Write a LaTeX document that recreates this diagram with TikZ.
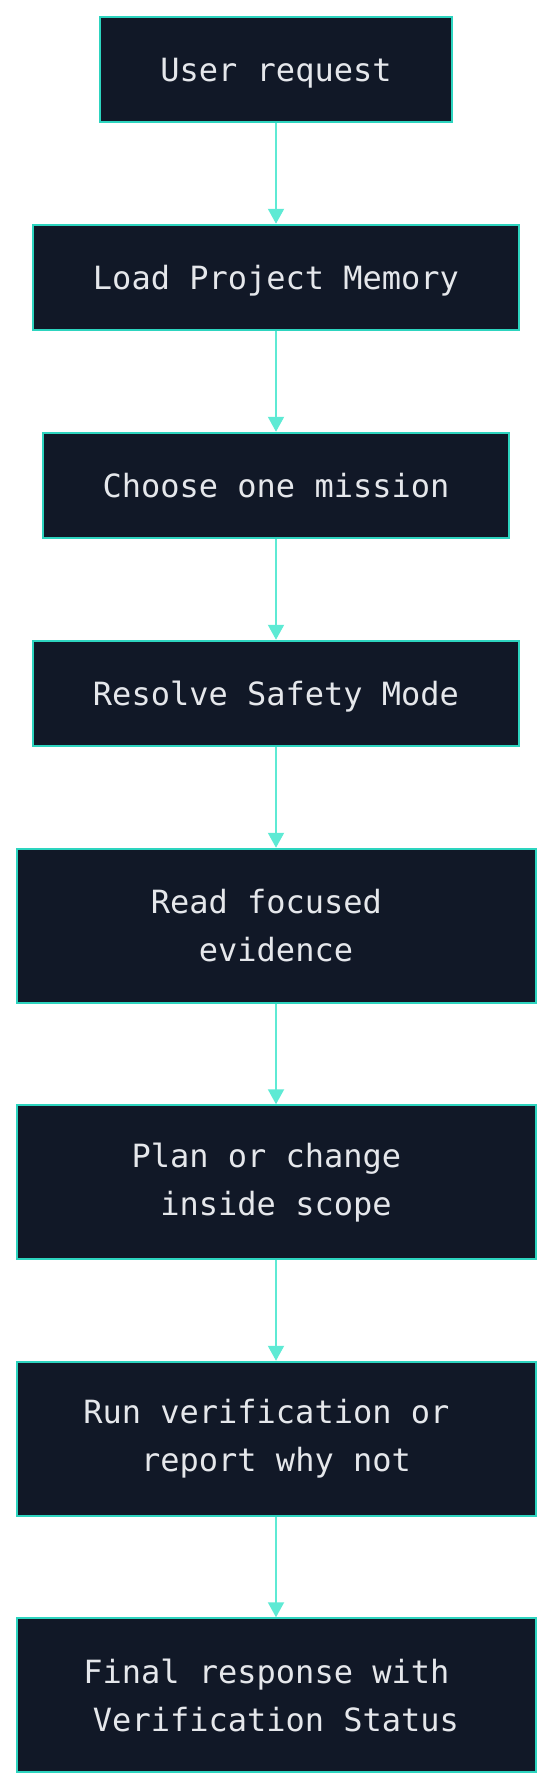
\documentclass[tikz,border=0pt]{standalone}
\usepackage{fontspec}
\setmonofont{DejaVu Sans Mono}
\usetikzlibrary{positioning, arrows.meta}
\definecolor{boxfill}{HTML}{111827}
\definecolor{boxline}{HTML}{2DD4BF}
\definecolor{flowline}{HTML}{5EEAD4}
\definecolor{boxtext}{HTML}{E5E7EB}

\begin{document}
\begin{tikzpicture}[x=1pt, y=-1pt, node distance=100.5pt,
    basebox/.style={draw=boxline, fill=boxfill, line width=2pt, text=boxtext,
        font=\ttfamily\fontsize{32}{48}\selectfont, align=center,
        inner xsep=60pt, inner ysep=0pt},
    stepbox/.style={basebox, minimum height=105.5pt, text height=24pt, text depth=0pt},
    widebox/.style={basebox, minimum width=519pt, minimum height=154pt},
    flow/.style={draw=flowline, line width=2pt, -{Triangle[width=16pt, length=15pt]}}]
    \useasboundingbox (0,0) rectangle (552,1788);
    \node[stepbox] (user) at (276,69.5) {User request};
    \node[stepbox, below=of user] (memory) {Load Project Memory};
    \node[stepbox, below=of memory] (mission) {Choose one mission};
    \node[stepbox, below=of mission] (safety) {Resolve Safety Mode};
    \node[widebox, below=of safety] (evidence) {Read focused\hphantom{x}\\evidence};
    \node[widebox, below=of evidence] (scope) {Plan or change\hphantom{x}\\inside scope};
    \node[widebox, below=of scope] (verify) {Run verification or\hphantom{x}\\report why not};
    \node[widebox, below=of verify] (final) {Final response with\hphantom{x}\\Verification Status};
    \foreach \a/\b in {user/memory, memory/mission, mission/safety, safety/evidence,
        evidence/scope, scope/verify, verify/final}
        \draw[flow] (\a) -- (\b);
\end{tikzpicture}
\end{document}
